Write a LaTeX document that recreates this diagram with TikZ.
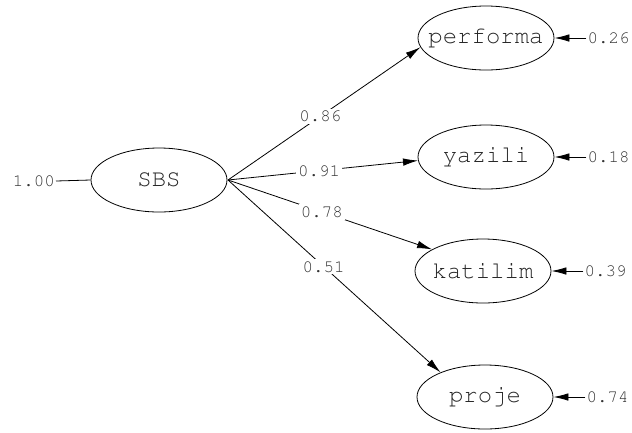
\documentclass[tikz,border=0pt]{standalone}
\usetikzlibrary{shapes.geometric,arrows.meta}
\newcommand{\cour}{\fontencoding{T1}\fontfamily{pcr}\selectfont}
\begin{document}
\begin{tikzpicture}[x=1pt,y=-1pt,
  var/.style={ellipse,draw,line width=0.8pt,minimum width=136pt,minimum height=64pt,inner sep=0pt,
    label={[font=\cour\fontsize{24}{24}\selectfont,text=black!85]center:#1}},
  lab/.style={font=\cour\fontsize{17.5}{17.5}\selectfont,text=black!80,inner sep=1pt},
  path/.style={line width=0.8pt,-{Latex[length=15pt,width=7.5pt]}},
  onl/.style={lab,fill=white,inner sep=2pt}]
\useasboundingbox (0,0) rectangle (632,432);
\node[var=SBS] (sbs) at (159,180) {};
\node[var=performa] (perf) at (486,38) {};
\node[var=yazili] (yaz) at (486,157) {};
\node[var=katilim] (kat) at (483,271) {};
\node[var=proje] (proj) at (485,397) {};
\node[lab,anchor=east] (one) at (56,181) {1.00};
\draw[line width=0.8pt] (one.east) -- (sbs.west);
\coordinate (o) at (228,180);
\draw[path] (o) -- node[onl,pos=0.48] {0.86} (perf.188);
\draw[path] (o) -- node[onl,pos=0.48] {0.91} (yaz.183);
\draw[path] (o) -- node[onl,pos=0.46] {0.78} (kat.157);
\draw[path] (o) -- node[onl,pos=0.45] {0.51} (proj.151);
\foreach \n/\v in {perf/0.26,yaz/0.18,kat/0.39,proj/0.74}{
  \node[lab,anchor=west] (e\n) at ([xshift=32pt]\n.east) {\v};
  \draw[path] (e\n.west) -- (\n.east);
}
\end{tikzpicture}
\end{document}
